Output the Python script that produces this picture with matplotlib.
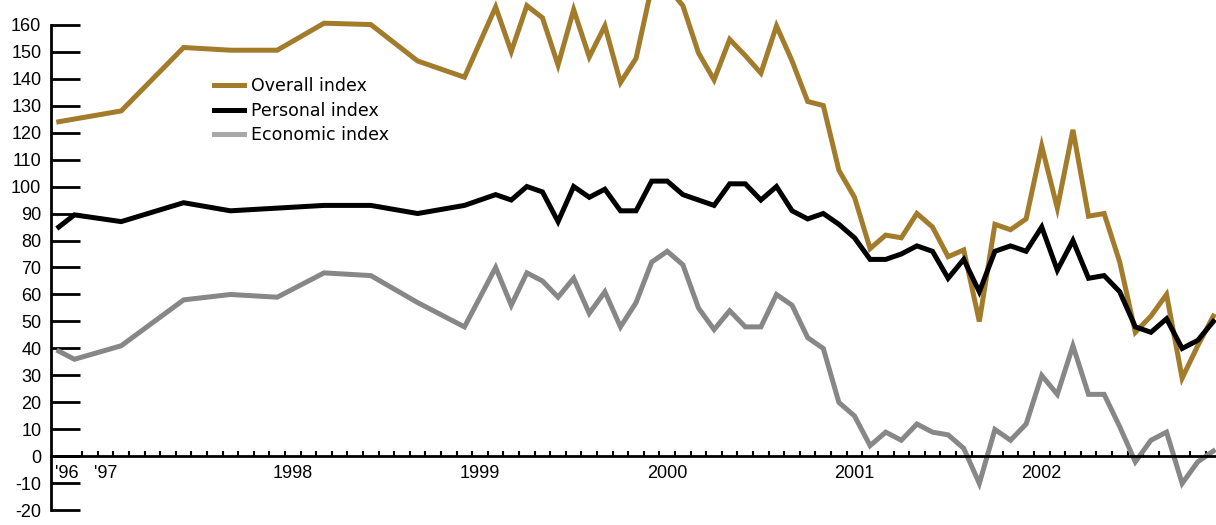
import numpy as np
import pandas as pd
import matplotlib
matplotlib.use("Agg")
import matplotlib.pyplot as plt
from matplotlib.lines import Line2D

# survey months: sparse until late 1998, monthly afterwards
early_months = ["1996-10", "1996-11", "1997-02", "1997-06", "1997-09", "1997-12",
                "1998-03", "1998-06", "1998-09", "1998-12"]
monthly = [str(p) for p in pd.period_range("1999-02", "2002-12", freq="M")]
months = early_months + monthly

overall = [124, 125, 128, 151.5, 150.5, 150.5, 160.5, 160, 146.5, 140.5,
           166.5, 150, 167, 162.5, 145, 165.5, 148, 159.5, 138.5, 147.5, 174,
           174, 167, 149.5, 139.5, 154.5, 148.5, 142, 159.5, 146.5, 131.5, 130,
           106, 96, 77, 82, 81, 90, 85, 74, 76.5, 50, 86, 84, 88, 115, 92, 121,
           89, 90, 72, 46, 52, 60, 29, 41, 52]
personal = [85, 89.5, 87, 94, 91, 92, 93, 93, 90, 93,
            97, 95, 100, 98, 87, 100, 96, 99, 91, 91, 102, 102, 97, 95, 93,
            101, 101, 95, 100, 91, 88, 90, 86, 81, 73, 73, 75, 78, 76, 66, 73,
            61, 76, 78, 76, 85, 69, 80, 66, 67, 61, 48, 46, 51, 40, 43, 50]
economic = [39, 36, 41, 58, 60, 59, 68, 67, 57, 48,
            70, 56, 68, 65, 59, 66, 53, 61, 48, 57, 72, 76, 71, 55, 47, 54,
            48, 48, 60, 56, 44, 40, 20, 15, 4, 9, 6, 12, 9, 8, 3, -10, 10, 6,
            12, 30, 23, 41, 23, 23, 11, -2, 6, 9, -10, -2, 2]

year_labels = ["'96", "'97", "1998", "1999", "2000", "2001", "2002"]
year_pos = [-2.5, 0, 12, 24, 36, 48, 60]

# month index, Jan 1997 = 0
x = np.array([(int(s[:4]) - 1997) * 12 + int(s[5:7]) - 1 for s in months])

gold = "#a27b2b"
grey = "#878787"

plt.rcParams["font.family"] = ["Liberation Sans", "DejaVu Sans"]
plt.rcParams["axes.unicode_minus"] = False

fig = plt.figure(figsize=(12.16, 5.25), dpi=100)
ax = fig.add_axes([51 / 1216, 0, 1165 / 1216, 1])

ax.plot(x, overall, color=gold, lw=3.6, solid_joinstyle="miter")
ax.plot(x, personal, color="black", lw=3.6, solid_joinstyle="miter")
ax.plot(x, economic, color=grey, lw=3.6, solid_joinstyle="miter")

ax.set_xlim(-3.5, 71.17)
ax.set_ylim(-25.4, 169.1)

for s in ["top", "right"]:
    ax.spines[s].set_visible(False)
ax.spines["left"].set_bounds(-20, 160)
ax.spines["left"].set_linewidth(2)
ax.spines["bottom"].set_position(("data", 0))
ax.spines["bottom"].set_linewidth(2)

ax.set_yticks(np.arange(-20, 161, 10))
ax.tick_params(axis="y", direction="in", length=21, width=2, pad=7,
               labelsize=13)

ax.set_xticks(year_pos)
ax.set_xticklabels(year_labels)
ax.set_xticks(np.arange(-2.5, 71, 1), minor=True)
ax.tick_params(axis="x", which="major", length=0, pad=6, labelsize=13)
ax.tick_params(axis="x", which="minor", direction="in", length=3.8, width=1.5)

handles = [Line2D([], [], color=gold, lw=3.6),
           Line2D([], [], color="black", lw=3.6),
           Line2D([], [], color="#a8a8a8", lw=3.6)]
ax.legend(handles, ["Overall index", "Personal index", "Economic index"],
          loc="upper left", bbox_to_anchor=(163 / 1165, 1 - 77 / 525),
          frameon=False, handlelength=1.7, handletextpad=0.45,
          labelspacing=0.38, borderaxespad=0, borderpad=0,
          prop={"family": "DejaVu Sans", "size": 12.5})

fig.savefig("out.png", dpi=100)
